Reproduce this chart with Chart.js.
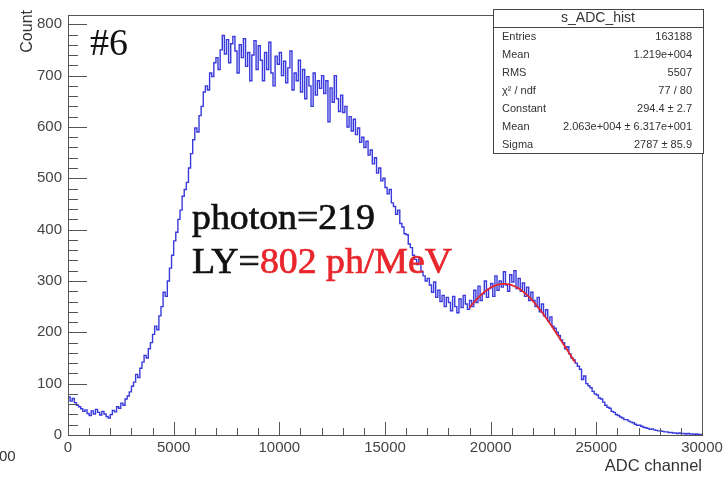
<!DOCTYPE html>
<html>
<head>
<meta charset="utf-8">
<script src="https://cdn.jsdelivr.net/npm/chart.js@4.4.0/dist/chart.umd.min.js"></script>
<style>
html, body { margin: 0; padding: 0; background: #fff; }
</style>
</head>
<body>
<canvas id="hist" width="727" height="477"></canvas>
<script>
// s_ADC_hist: 300 bins of 100 ADC channels, 0..30000
var binWidth = 100;
var counts = [
  74, 66, 71, 63, 58, 55, 51, 46, 49, 42,            // 0-1000
  38, 47, 41, 50, 44, 39, 46, 41, 36, 33,            // 1000-2000
  40, 48, 45, 55, 52, 62, 58, 70, 76, 84,            // 2000-3000
  95, 103, 118, 112, 130, 142, 155, 150, 168, 180,   // 3000-4000
  196, 212, 205, 232, 250, 278, 270, 300, 325, 350,  // 4000-5000
  378, 395, 420, 438, 465, 478, 492, 520, 548, 575,  // 5000-6000
  598, 590, 622, 640, 668, 680, 672, 705, 698, 725,  // 6000-7000
  735, 712, 750, 778, 742, 770, 725, 762, 776, 748,  // 7000-8000
  705, 760, 735, 772, 718, 745, 690, 740, 768, 712,  // 8000-9000
  758, 730, 690, 745, 712, 765, 705, 680, 738, 722,  // 9000-10000
  745, 700, 728, 686, 715, 748, 672, 705, 690, 730,  // 10000-11000
  668, 712, 655, 698, 680, 640, 705, 662, 690, 675,  // 11000-12000
  700, 665, 690, 610, 676, 648, 700, 655, 630, 662,  // 12000-13000
  628, 640, 600, 620, 592, 615, 585, 598, 570, 580,  // 13000-14000
  560, 572, 545, 555, 528, 540, 510, 520, 495, 500,  // 14000-15000
  482, 470, 478, 452, 445, 430, 438, 412, 405, 392,  // 15000-16000
  390, 372, 365, 350, 342, 332, 345, 318, 310, 300,  // 16000-17000
  305, 292, 278, 298, 268, 282, 260, 272, 250, 268,  // 17000-18000
  258, 242, 270, 250, 238, 265, 248, 272, 255, 245,  // 18000-19000
  262, 250, 282, 258, 290, 262, 275, 300, 268, 285,  // 19000-20000
  295, 270, 310, 282, 300, 288, 318, 292, 280, 312,  // 20000-21000
  298, 320, 285, 305, 280, 296, 270, 288, 262, 278,  // 21000-22000
  262, 250, 268, 240, 255, 232, 244, 222, 230, 212,  // 22000-23000
  208, 200, 194, 185, 180, 168, 172, 158, 150, 146,  // 23000-24000
  140, 134, 128, 108, 115, 100, 96, 92, 85, 80,      // 24000-25000
  78, 72, 70, 64, 58, 54, 52, 46, 44, 40,            // 25000-26000
  38, 35, 33, 30, 30, 27, 25, 24, 21, 19,            // 26000-27000
  19, 17, 15, 14, 13, 11, 12, 10, 9, 8,              // 27000-28000
  8, 7, 6, 6, 5, 5, 4, 4, 3, 4,                      // 28000-29000
  3, 3, 2, 3, 2, 2, 1, 2, 1, 1                       // 29000-30000
];

// gaus fit from the stats box
var fitConstant = 294.4;
var fitMean = 20630;
var fitSigma = 2787;
var fitFrom = 19000;
var fitTo = 24000;

var xTicks = [0, 5000, 10000, 15000, 20000, 25000, 30000];
var yTicks = [0, 100, 200, 300, 400, 500, 600, 700, 800];

var statsTitle = 's_ADC_hist';
var statsNames = ['Entries', 'Mean', 'RMS', '\u03C7\u00B2 / ndf', 'Constant', 'Mean', 'Sigma'];
var statsValues = ['163188', '1.219e+004', '5507', '77 / 80', '294.4 \u00B1 2.7',
                   '2.063e+004 \u00B1 6.317e+001', '2787 \u00B1 85.9'];

// step outline: each count held across its bin
var histPoints = [{ x: 0, y: 0 }];
counts.forEach(function (c, i) { histPoints.push({ x: i * binWidth, y: c }); });
histPoints.push({ x: counts.length * binWidth, y: counts[counts.length - 1] });

var fitPoints = [];
for (var x = fitFrom; x <= fitTo; x += 50) {
  var d = (x - fitMean) / fitSigma;
  fitPoints.push({ x: x, y: fitConstant * Math.exp(-0.5 * d * d) });
}

function heavyText(ctx, s, x, y) {
  ctx.fillText(s, x, y);
  ctx.strokeText(s, x, y);
}

// ROOT-like frame with inward ticks, labels and stats box
var rootStyle = {
  id: 'rootStyle',
  afterDraw: function (chart) {
    var ctx = chart.ctx, a = chart.chartArea;
    var xs = chart.scales.x, ys = chart.scales.y;
    ctx.save();
    ctx.strokeStyle = '#555';
    ctx.lineWidth = 1;
    ctx.strokeRect(Math.round(a.left) + 0.5, Math.round(a.top) + 0.5,
                   Math.round(a.right - a.left), Math.round(a.bottom - a.top));
    ctx.beginPath();
    for (var v = 0; v <= 30000; v += 1000) {
      var px = Math.round(xs.getPixelForValue(v)) + 0.5;
      var len = v % 5000 === 0 ? 13 : 7;
      ctx.moveTo(px, a.bottom);
      ctx.lineTo(px, a.bottom - len);
    }
    for (var w = 0; w <= 800; w += 20) {
      var py = Math.round(ys.getPixelForValue(w)) + 0.5;
      var l2 = w % 100 === 0 ? 19 : 10;
      ctx.moveTo(a.left, py);
      ctx.lineTo(a.left + l2, py);
    }
    ctx.stroke();

    // axis titles
    ctx.fillStyle = '#333';
    ctx.font = '16px "Liberation Sans", Arial, sans-serif';
    ctx.save();
    ctx.translate(32, 10);
    ctx.rotate(-Math.PI / 2);
    ctx.textAlign = 'right';
    ctx.textBaseline = 'alphabetic';
    ctx.fillText('Count', 0, 0);
    ctx.restore();
    ctx.font = '16.5px "Liberation Sans", Arial, sans-serif';
    ctx.textAlign = 'right';
    ctx.textBaseline = 'middle';
    ctx.fillText('ADC channel', a.right, 466);
    ctx.font = '15px "Liberation Sans", Arial, sans-serif';
    ctx.textAlign = 'left';
    ctx.fillText('00', -1, 457);

    // stats box
    var bx = 493, by = 9, bw = 210, bh = 144;
    ctx.fillStyle = '#fff';
    ctx.fillRect(bx, by, bw, bh);
    ctx.strokeStyle = '#444';
    ctx.strokeRect(bx + 0.5, by + 0.5, bw, bh);
    ctx.beginPath();
    ctx.moveTo(bx, by + 18.5);
    ctx.lineTo(bx + bw, by + 18.5);
    ctx.stroke();
    ctx.fillStyle = '#333';
    ctx.font = '14px "Liberation Sans", Arial, sans-serif';
    ctx.textAlign = 'center';
    ctx.textBaseline = 'middle';
    ctx.fillText(statsTitle, bx + bw / 2, by + 9);
    ctx.font = '11px "Liberation Sans", Arial, sans-serif';
    for (var i = 0; i < statsNames.length; i++) {
      var ty = 37 + i * 18;
      ctx.textAlign = 'left';
      ctx.fillText(statsNames[i], 502, ty);
      ctx.textAlign = 'right';
      ctx.fillText(statsValues[i], 692, ty);
    }

    // annotations
    ctx.textAlign = 'left';
    ctx.textBaseline = 'alphabetic';
    ctx.fillStyle = '#111';
    ctx.strokeStyle = '#111';
    ctx.lineWidth = 0.7;
    ctx.font = '38px "Liberation Serif", "Times New Roman", serif';
    ctx.fillText('#6', 90, 55);
    ctx.font = '36px "Liberation Serif", "Times New Roman", serif';
    ctx.save();
    ctx.translate(192, 229);
    ctx.scale(1.05, 1);
    heavyText(ctx, 'photon=219', 0, 0);
    ctx.restore();
    ctx.save();
    ctx.translate(192, 273);
    ctx.scale(1.05, 1);
    heavyText(ctx, 'LY=', 0, 0);
    var lw = ctx.measureText('LY=').width;
    ctx.fillStyle = '#e8262c';
    ctx.strokeStyle = '#e8262c';
    heavyText(ctx, '802 ph/MeV', lw, 0);
    ctx.restore();
    ctx.restore();
  }
};

var tickFont = { family: '"Liberation Sans", Arial, sans-serif', size: 15 };

new Chart(document.getElementById('hist').getContext('2d'), {
  type: 'line',
  data: {
    datasets: [{
      label: 's_ADC_hist',
      data: histPoints,
      borderColor: '#3a3adc',
      borderWidth: 1.4,
      stepped: 'before',
      pointRadius: 0,
      fill: false,
      order: 2
    }, {
      label: 'gaus',
      data: fitPoints,
      borderColor: '#e3262e',
      borderWidth: 1.8,
      pointRadius: 0,
      tension: 0,
      fill: false,
      order: 1
    }]
  },
  options: {
    responsive: false,
    animation: false,
    layout: { padding: { left: 0, top: 9, right: 25, bottom: 0 } },
    plugins: { legend: { display: false }, tooltip: { enabled: false } },
    scales: {
      x: {
        type: 'linear', min: 0, max: 30000,
        grid: { display: false, drawTicks: false },
        border: { display: false },
        afterBuildTicks: function (s) { s.ticks = xTicks.map(function (v) { return { value: v }; }); },
        ticks: {
          color: '#444', font: tickFont, padding: 4, maxRotation: 0, autoSkip: false,
          callback: function (v) { return String(v); }
        },
        afterFit: function (s) { s.height = 42; }
      },
      y: {
        type: 'linear', min: 0, max: 818,
        grid: { display: false, drawTicks: false },
        border: { display: false },
        afterBuildTicks: function (s) { s.ticks = yTicks.map(function (v) { return { value: v }; }); },
        ticks: {
          color: '#444', font: tickFont, padding: 6, autoSkip: false,
          callback: function (v) { return String(v); }
        },
        afterFit: function (s) { s.width = 68; }
      }
    }
  },
  plugins: [rootStyle]
});
</script>
</body>
</html>
